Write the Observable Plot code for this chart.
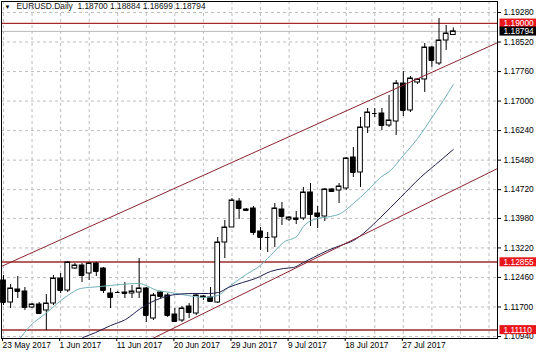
<!DOCTYPE html>
<html>
<head>
<meta charset="utf-8">
<script src="https://cdn.jsdelivr.net/npm/d3@7"></script>
<script src="https://cdn.jsdelivr.net/npm/@observablehq/plot@0.6"></script>
<style>
  html, body { margin: 0; padding: 0; background: #fff; }
  #chart svg { display: block; }
</style>
</head>
<body>
<div id="chart"></div>
<script>
// ---- data ----
const symbolTitle = "EURUSD.Daily  1.18700 1.18884 1.18699 1.18794";
const dateLabels = ["23 May 2017", "1 Jun 2017", "11 Jun 2017", "20 Jun 2017", "29 Jun 2017", "9 Jul 2017", "18 Jul 2017", "27 Jul 2017"];
const dateLabelBars = [0, 8, 16, 24, 32, 40, 48, 56];
const gridBars = [0, 4, 8, 12, 16, 20, 24, 28, 32, 36, 40, 44, 48, 52, 56, 60, 64, 68];
const priceTicks = [1.19280, 1.18520, 1.17760, 1.17000, 1.16240, 1.15480, 1.14720, 1.13980, 1.13220, 1.12460, 1.11700, 1.10940];

const open = [1.12382,1.11815,1.12150,1.12099,1.11687,1.11764,1.11610,1.11790,1.12433,1.12124,
1.12690,1.12768,1.12562,1.12819,1.12690,1.12047,1.12073,1.12073,1.12047,1.12073,
1.12176,1.11404,1.12073,1.11996,1.11506,1.11352,1.11712,1.11532,1.11970,1.11944,
1.11815,1.13360,1.13746,1.14415,1.14209,1.14235,1.13643,1.13489,1.13489,1.14209,
1.13952,1.13978,1.13978,1.14647,1.14106,1.14029,1.14724,1.14698,1.14750,1.15548,
1.15162,1.16320,1.16680,1.16680,1.16371,1.16474,1.17452,1.16758,1.17478,1.17556,
1.18379,1.17967,1.18559,1.18700];
const high = [1.12510,1.12279,1.12484,1.12202,1.11790,1.11815,1.12022,1.12510,1.12562,1.12871,
1.12819,1.12819,1.12845,1.12845,1.12716,1.12176,1.12099,1.12330,1.12253,1.12948,
1.12202,1.12047,1.12099,1.12047,1.11661,1.11712,1.11790,1.12047,1.11996,1.12202,
1.13489,1.13926,1.14492,1.14492,1.14235,1.14287,1.13746,1.13617,1.14364,1.14389,
1.14029,1.14158,1.14776,1.14878,1.14287,1.14750,1.14750,1.14878,1.15548,1.15805,
1.16577,1.16809,1.16809,1.16809,1.17144,1.17530,1.17761,1.17633,1.17581,1.18482,
1.18405,1.19126,1.18945,1.18884];
const low = [1.11738,1.11661,1.11918,1.11610,1.11661,1.11506,1.11095,1.11738,1.12047,1.12073,
1.12665,1.12330,1.12382,1.12484,1.12047,1.11661,1.12047,1.11918,1.11918,1.11918,
1.11301,1.11352,1.11918,1.11429,1.11301,1.11301,1.11404,1.11481,1.11867,1.11815,
1.11790,1.12948,1.13746,1.13952,1.14184,1.13540,1.13154,1.13102,1.13231,1.13797,
1.13900,1.13823,1.13926,1.13772,1.13720,1.13900,1.14647,1.14364,1.14698,1.15033,
1.14776,1.16166,1.16577,1.16243,1.16320,1.16114,1.16603,1.16706,1.17427,1.17221,
1.17864,1.17916,1.18302,1.18699];
const close = [1.11815,1.12176,1.12099,1.11687,1.11764,1.11532,1.11790,1.12433,1.12124,1.12845,
1.12768,1.12510,1.12819,1.12613,1.12124,1.11944,1.12073,1.12047,1.12099,1.12176,
1.11481,1.11996,1.11970,1.11481,1.11327,1.11661,1.11558,1.11996,1.11944,1.11841,
1.13360,1.13746,1.14441,1.14235,1.14184,1.13617,1.13489,1.13489,1.14235,1.14029,
1.14003,1.13952,1.14647,1.14080,1.14029,1.14724,1.14673,1.14801,1.15522,1.15162,
1.16320,1.16706,1.16680,1.16371,1.16500,1.17452,1.16758,1.17581,1.17556,1.18379,
1.18044,1.18559,1.18739,1.18794];

// fast moving average (light teal), read at bar positions
const fastMaBar = [2.1,3.8,5.9,9.0,10.8,13.6,16.4,18.9,21.6,23.4,25.8,28.0,30.0,31.8,34.2,35.6,37.4,39.2,41.2,42.0,44.0,45.8,47.2,49.0,51.0,52.8,54.2,56.0,58.0,60.2,61.6,63.0];
const fastMaVal = [1.10837,1.11223,1.11532,1.11996,1.12176,1.12227,1.12279,1.12305,1.12124,1.12073,1.11996,1.11944,1.11996,1.12253,1.12562,1.12716,1.13025,1.13360,1.13540,1.13772,1.13978,1.14029,1.14106,1.14364,1.14698,1.15033,1.15213,1.15599,1.16037,1.16629,1.17015,1.17427];
// slow moving average (dark navy)
const slowMaBar = [11.1,12.9,15.0,17.1,19.2,20.6,22.3,24.1,26.5,28.7,30.1,31.5,33.5,35.3,37.4,39.2,40.6,42.0,43.4,45.4,47.2,49.0,52.8,55.6,58.4,61.2,63.0];
const slowMaVal = [1.10914,1.11043,1.11223,1.11378,1.11661,1.11815,1.11944,1.12022,1.12047,1.12047,1.12073,1.12202,1.12330,1.12433,1.12613,1.12690,1.12716,1.12845,1.12974,1.13154,1.13283,1.13411,1.14003,1.14518,1.15033,1.15470,1.15754];
// channel trend lines
const upperChannelBar = [-1, 70];
const upperChannelVal = [1.12685, 1.18570];
const lowerChannelBar = [18, 70];
const lowerChannelVal = [1.10627, 1.15337];
// horizontal levels
const levelTop = [1.19000];
const levelsBottom = [1.12855, 1.11110];
const currentPrice = [1.18794];
const tagValues = [1.19000, 1.18794, 1.12855, 1.11110];
const tagFills = ["#e8161c", "#000000", "#e8161c", "#e8161c"];

// ---- build tables ----
const bars = open.map((o, i) => ({i, o, h: high[i], l: low[i], c: close[i]}));
const fastMa = fastMaBar.map((b, k) => ({b, v: fastMaVal[k]}));
const slowMa = slowMaBar.map((b, k) => ({b, v: slowMaVal[k]}));
const upperCh = upperChannelBar.map((b, k) => ({b, v: upperChannelVal[k]}));
const lowerCh = lowerChannelBar.map((b, k) => ({b, v: lowerChannelVal[k]}));
const tags = tagValues.map((v, k) => ({v, label: v.toFixed(5), fill: tagFills[k]}));
const half = 0.33;

const font = "'Liberation Sans', Arial, sans-serif";
const fs = 8.4;

const chart = Plot.plot({
  width: 536,
  height: 357,
  marginLeft: 1,
  marginRight: 39,
  marginTop: 1,
  marginBottom: 19,
  style: {fontFamily: font, fontSize: fs + "px", color: "#000", background: "#fff"},
  x: {domain: [-0.28, 69.19]},
  y: {domain: [1.10889, 1.19563]},
  marks: [
    Plot.ruleY(priceTicks, {stroke: "#bdbdbd", strokeDasharray: "3,3", strokeWidth: 1}),
    Plot.ruleX(gridBars, {stroke: "#bdbdbd", strokeDasharray: "3,3", strokeWidth: 1}),
    Plot.ruleY(currentPrice, {stroke: "#b8b8b8", strokeWidth: 1}),
    Plot.ruleY(levelsBottom, {stroke: "#b5605f", strokeWidth: 2}),
    Plot.ruleY(levelTop, {stroke: "#a8282c", strokeWidth: 1.2}),
    // candles
    Plot.ruleX(bars, {x: "i", y1: "l", y2: "h", stroke: "#000", strokeWidth: 1}),
    Plot.rect(bars, {x1: d => d.i - half, x2: d => d.i + half, y1: "o", y2: "c",
      fill: d => d.c >= d.o ? "#fff" : "#000", stroke: "#000", strokeWidth: 1}),
    Plot.ruleY(bars, {y: "c", x1: d => d.i - half, x2: d => d.i + half, stroke: "#000", strokeWidth: 1}),
    // indicators and trend lines
    Plot.line(fastMa, {x: "b", y: "v", stroke: "#6fb0b8", strokeWidth: 1, clip: true, curve: "monotone-x"}),
    Plot.line(slowMa, {x: "b", y: "v", stroke: "#1e1e4e", strokeWidth: 1, clip: true, curve: "monotone-x"}),
    Plot.line(upperCh, {x: "b", y: "v", stroke: "#8a2430", strokeWidth: 1, clip: true}),
    Plot.line(lowerCh, {x: "b", y: "v", stroke: "#8a2430", strokeWidth: 1, clip: true}),
    Plot.frame({stroke: "#000", strokeWidth: 1}),
    Plot.axisY({anchor: "right", ticks: priceTicks, tickFormat: d => d.toFixed(5), tickSize: 3, tickPadding: 3, fontSize: fs, label: null}),
    Plot.axisX({anchor: "bottom", ticks: dateLabelBars, tickFormat: b => dateLabels[dateLabelBars.indexOf(b)], tickSize: 3, tickPadding: 1, textAnchor: "start", dx: -1, fontSize: fs, label: null}),
    Plot.text(tags, {y: "v", text: "label", frameAnchor: "right", dx: 6, textAnchor: "start", fill: "#fff", fontSize: fs}),
    Plot.text(["▼"], {frameAnchor: "top-left", dx: 3, dy: 3, lineAnchor: "top", fontSize: 6, fill: "#000"}),
    Plot.text([symbolTitle], {frameAnchor: "top-left", dx: 15, dy: 2, lineAnchor: "top", textAnchor: "start", fontSize: fs, fill: "#111"})
  ]
});

document.getElementById("chart").appendChild(chart);

// background boxes behind the price tags, found by their text
const tagTexts = Array.from(chart.querySelectorAll("text")).filter(t => tags.some(d => d.label === t.textContent.trim()));
tagTexts.forEach(t => {
  const d = tags.find(d => d.label === t.textContent.trim());
  const bb = t.getBBox();
  const r = document.createElementNS("http://www.w3.org/2000/svg", "rect");
  r.setAttribute("x", bb.x - 4);
  r.setAttribute("y", bb.y + 0.5);
  r.setAttribute("width", 60);
  r.setAttribute("height", Math.max(bb.height - 1, 8));
  r.setAttribute("fill", d.fill);
  const tr = t.getAttribute("transform");
  if (tr) r.setAttribute("transform", tr);
  t.parentNode.insertBefore(r, t);
  t.setAttribute("fill", "#fff");
});
</script>
</body>
</html>
